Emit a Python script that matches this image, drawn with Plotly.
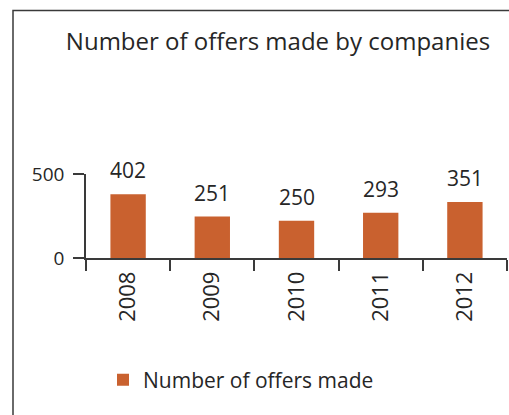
import plotly.graph_objects as go

years = ["2008", "2009", "2010", "2011", "2012"]
bar_heights = [380, 247, 221, 270, 334]
value_labels = ["402", "251", "250", "293", "351"]
series_name = "Number of offers made"
title_text = "Number of offers made by companies"

BAR_COLOR = "#C9612F"
TEXT_COLOR = "#262626"
FONT = "Open Sans"

W, H = 509, 415
ML, MR, MT, MB = 86, 2, 174, 157
plot_w = W - ML - MR
plot_h = H - MT - MB

fig = go.Figure()
fig.add_trace(go.Bar(
    x=years, y=bar_heights, name=series_name,
    marker=dict(color=BAR_COLOR, line=dict(width=0)),
    showlegend=True,
))

for i, (h, lab) in enumerate(zip(bar_heights, value_labels)):
    fig.add_annotation(x=i, y=h, text=lab, showarrow=False,
                       yanchor="middle", yshift=24,
                       font=dict(family=FONT, size=21, color=TEXT_COLOR))

def px_to_paper_x(px):
    return (px - ML) / plot_w

def px_to_paper_y(py):
    return (H - MB - py) / plot_h

# chart frame
fig.add_shape(type="rect", xref="paper", yref="paper",
              x0=px_to_paper_x(13), x1=px_to_paper_x(W + 20),
              y0=px_to_paper_y(H + 20), y1=px_to_paper_y(10.5),
              line=dict(color="#3a3a3a", width=1.5), fillcolor="rgba(0,0,0,0)", layer="below")

fig.update_layout(
    width=W, height=H,
    margin=dict(l=ML, r=MR, t=MT, b=MB, pad=0, autoexpand=False),
    paper_bgcolor="white", plot_bgcolor="white",
    font=dict(family=FONT, color=TEXT_COLOR),
    title=dict(text=title_text, x=278 / W, xanchor="center", xref="container",
               y=1 - 42 / H, yanchor="middle", yref="container",
               font=dict(family=FONT, size=24, color=TEXT_COLOR)),
    bargap=0.58,
    showlegend=True,
    legend=dict(x=px_to_paper_x(103), xanchor="left", y=px_to_paper_y(380), yanchor="middle",
                orientation="h", font=dict(family=FONT, size=21, color=TEXT_COLOR),
                bgcolor="rgba(0,0,0,0)"),
    xaxis=dict(type="category", range=[-0.5, len(years) - 0.5], showline=True,
               linecolor="#3a3a3a", linewidth=1.5, automargin=False,
               ticks="outside", ticklen=11, tickwidth=1.5, tickcolor="#3a3a3a",
               tickson="boundaries", tickangle=-90, ticklabelstandoff=3,
               tickfont=dict(family=FONT, size=22, color=TEXT_COLOR),
               showgrid=False, zeroline=False, fixedrange=True),
    yaxis=dict(range=[0, 500], tickvals=[0, 500], showline=True, linecolor="#3a3a3a",
               linewidth=1.5, ticks="outside", ticklen=11, tickwidth=1.5, tickcolor="#3a3a3a",
               automargin=False, ticklabelstandoff=5,
               tickfont=dict(family=FONT, size=19, color=TEXT_COLOR),
               showgrid=False, zeroline=False, fixedrange=True),
)

fig.write_html("out.html", config={"displayModeBar": False},
               post_script="document.body.style.margin='0';document.body.style.overflow='hidden';")
